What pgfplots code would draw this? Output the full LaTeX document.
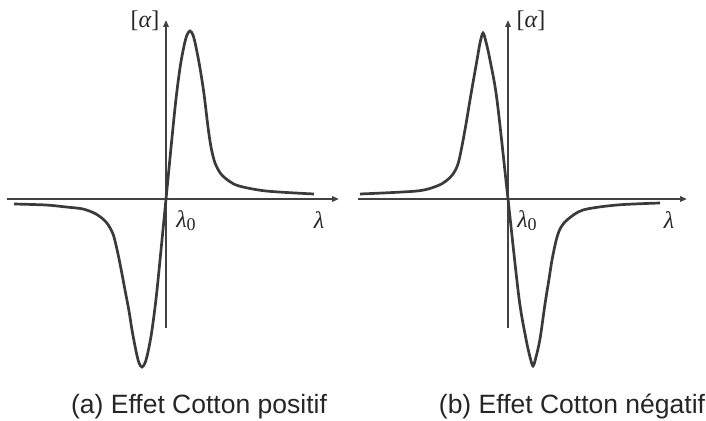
\documentclass[border=0pt]{standalone}
\usepackage{fontspec}
\setmainfont{Liberation Sans}
\newfontfamily\greekserif{Liberation Serif}
\usepackage{pgfplots}
\pgfplotsset{compat=1.18}
\usetikzlibrary{arrows.meta}
\definecolor{curveGray}{RGB}{58,58,58}
\definecolor{axisGray}{RGB}{66,66,66}

% one pt = one pixel of the reference
\pgfplotsset{cotton/.style={
  scale only axis,
  axis lines=middle,
  clip=false,
  ymin=-129, ymax=179,
  height=308pt,
  xtick=\empty, ytick=\empty,
  anchor=south west,
  axis line style={line width=1.9pt, axisGray},
  every inner x axis line/.append style={-{Triangle[length=7pt,width=5.5pt]}},
  every inner y axis line/.append style={-{Triangle[length=7pt,width=5.5pt]}},
}}
\tikzset{lab/.style={text=black!85}}
\newcommand{\labfont}{\greekserif\fontsize{24}{28}\selectfont}
\newcommand{\alphalab}{{\labfont[\itshape α\upshape]}}
\newcommand{\lamlab}{{\labfont\itshape λ}}
\newcommand{\lamzero}{{\labfont\itshape λ\upshape\raisebox{-3pt}{\fontsize{18}{20}\selectfont 0}}}

\begin{document}
\begin{tikzpicture}
\useasboundingbox (0,0) rectangle (706pt,420pt);

% (a) positive Cotton effect
\begin{axis}[cotton, at={(7pt,92pt)}, xmin=-159, xmax=173, width=332pt]
\addplot[curveGray, line width=2.7pt, smooth, tension=0.5] coordinates {
  (-152,-5) (-120,-6) (-100,-8) (-83,-10) (-70,-15) (-60,-23) (-53,-35)
  (-48,-55) (-44,-75) (-41,-91) (-37,-112) (-34,-131) (-30,-152)
  (-27,-164) (-24,-168) (-21,-164) (-18,-153) (-14,-131) (-9,-91)
  (0,0) (9,91) (14,131) (18,153) (21,164) (24,168) (27,164) (30,152)
  (34,131) (38,105) (42,72) (45,52) (49,36) (55,25) (63,18) (73,13)
  (100,8) (148,5)
};
\node[lab] at (axis cs:-21,178) {\alphalab};
\node[lab] at (axis cs:20,-22) {\lamzero};
\node[lab] at (axis cs:153,-21) {\lamlab};
\end{axis}

% (b) negative Cotton effect
\begin{axis}[cotton, at={(358pt,92pt)}, xmin=-150, xmax=179, width=329pt]
\addplot[curveGray, line width=2.7pt, smooth, tension=0.5] coordinates {
  (-148,5) (-91,8) (-71,13) (-62,18) (-55,25) (-50,35) (-46,53)
  (-42,75) (-38,99) (-34,122) (-31,139) (-28,156) (-25,166) (-22,157)
  (-18,139) (-11,99) (0,0) (11,-99) (18,-140) (22,-158) (25,-167)
  (28,-158) (32,-140) (37,-105) (41,-80) (44,-61) (48,-42) (52,-30)
  (59,-21) (75,-11) (109,-6) (152,-4)
};
\node[lab] at (axis cs:23,178) {\alphalab};
\node[lab] at (axis cs:19,-22) {\lamzero};
\node[lab] at (axis cs:161,-21) {\lamlab};
\end{axis}

\node[anchor=base, font=\fontsize{26.5}{30}\selectfont, text=black!85]
  at (199pt,7pt) {(a) Effet Cotton positif};
\node[anchor=base, font=\fontsize{26.5}{30}\selectfont, text=black!85]
  at (572pt,7pt) {(b) Effet Cotton négatif};
\end{tikzpicture}
\end{document}
